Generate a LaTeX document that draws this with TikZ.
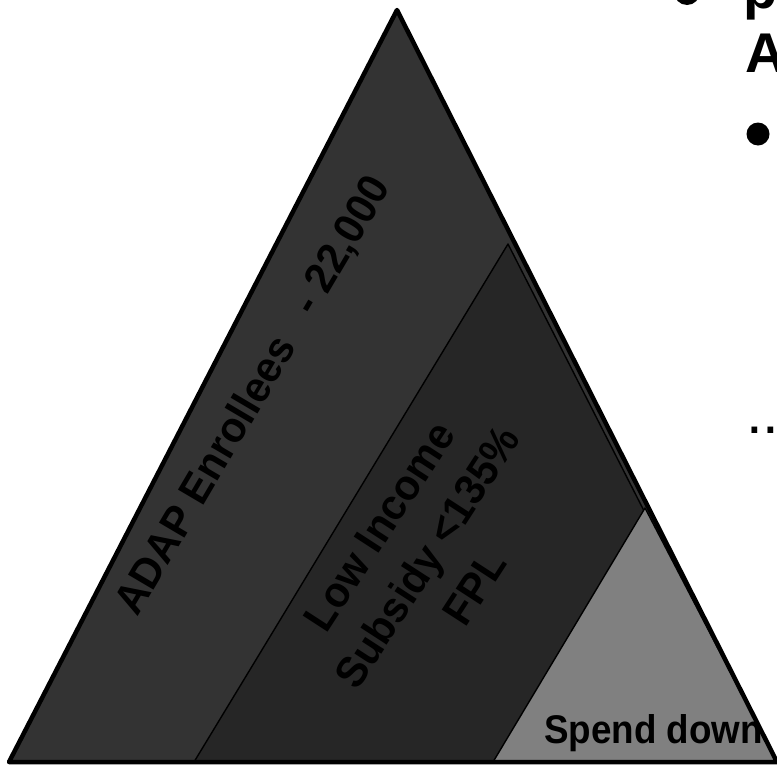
\documentclass[tikz,border=0pt]{standalone}
\usepackage{fontspec}
\setmainfont{Liberation Sans}
\newfontfamily\condsans[FakeStretch=0.92]{Liberation Sans}
\newfontfamily\midsans[FakeStretch=0.96]{Liberation Sans}
\definecolor{outerfill}{RGB}{51,51,51}
\definecolor{midfill}{RGB}{38,38,38}
\definecolor{grayfill}{RGB}{128,128,128}
\tikzset{
  lbl/.style={inner sep=0pt, text=black, font=\midsans\bfseries\fontsize{43}{57}\selectfont},
  bigtxt/.style={inner sep=0pt, text=black, font=\bfseries\fontsize{56}{64}\selectfont},
  thinedge/.style={draw=black, line width=1.4pt, line join=round},
  thickedge/.style={draw=black, line width=4.5pt, line join=round}
}
\begin{document}
\begin{tikzpicture}[x=1pt,y=-1pt]
\useasboundingbox (0,0) rectangle (777,766);
\clip (0,0) rectangle (777,766);
% corners
\coordinate (top) at (397,10);
\coordinate (bl) at (9,762);
\coordinate (br) at (777,762);
\coordinate (mtop) at (508,244);
\coordinate (mbl) at (194,762);
\coordinate (mbr) at (772,762);
\coordinate (gtop) at (645,508);
\coordinate (gbl) at (493,762);
\coordinate (gbr) at (777,762);
% shapes
\fill[outerfill] (top) -- (bl) -- (br) -- cycle;
\filldraw[fill=midfill, thinedge] (mtop) -- (mbl) -- (mbr) -- cycle;
\filldraw[fill=grayfill, thinedge] (gtop) -- (gbl) -- (gbr) -- cycle;
\draw[thickedge] (top) -- (bl) -- (br) -- cycle;
% labels
\node[lbl, rotate=59.5] (adap) at (254,396) {ADAP Enrollees \ \ - 22,000};
\node[lbl, rotate=57, align=center] (lis) at (427,557) {Low Income\\Subsidy <135\%\\FPL};
\node[lbl, font=\condsans\bfseries\fontsize{40}{44}\selectfont, anchor=base west] (spend) at (544,743) {Spend down};
% right-side text
\fill[black] (687,-8) circle (13) node (b1) {};
\node[bigtxt, anchor=base west] (p1) at (743,8) {p};
\node[bigtxt, anchor=base west] (a1) at (745,72) {A};
\fill[black] (758,134) circle (11.5) node (b2) {};
\node[inner sep=0pt, text=black, font=\fontsize{60}{60}\selectfont, anchor=base west] (dots) at (746,433) {...};
\end{tikzpicture}
\end{document}
